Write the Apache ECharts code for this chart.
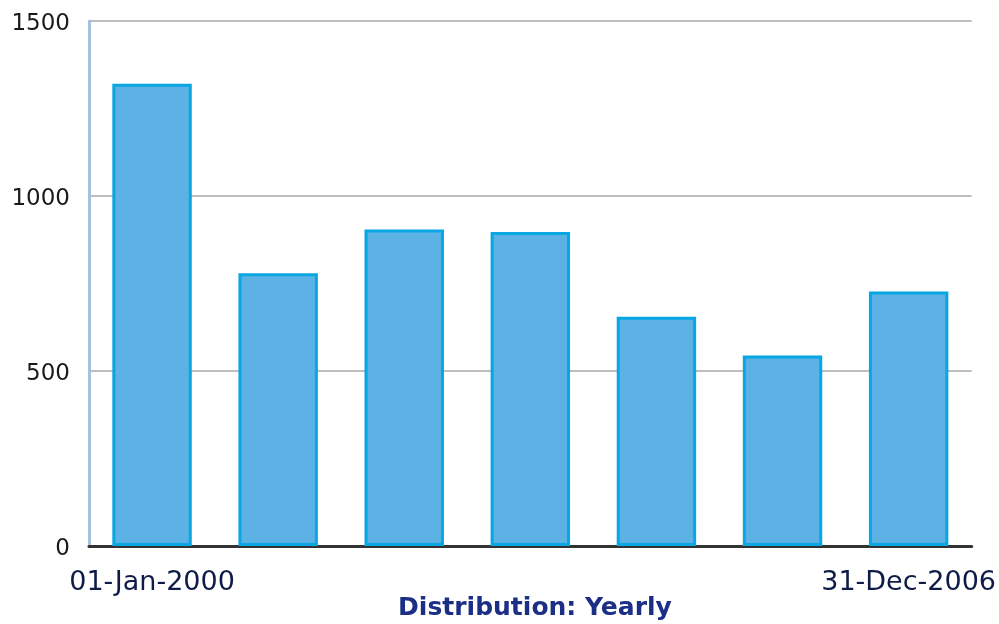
<!DOCTYPE html>
<html>
<head>
<meta charset="utf-8">
<script src="https://cdn.jsdelivr.net/npm/echarts@6/dist/echarts.min.js"></script>
<style>
  html, body { margin: 0; padding: 0; background: #fff; }
  #chart { width: 999px; height: 624px; }
</style>
</head>
<body>
<div id="chart"></div>
<script>
// Yearly distribution, one bar per year
const years = ['2000', '2001', '2002', '2003', '2004', '2005', '2006'];
const counts = [1321, 779, 904, 897, 655, 544, 727];
// Only the first and last periods carry a date label
const tickLabels = ['01-Jan-2000', '', '', '', '', '', '31-Dec-2006'];
const yTicks = { min: 0, max: 1500, step: 500 };
const chartTitle = 'Distribution: Yearly';

const chart = echarts.init(document.getElementById('chart'), null, { renderer: 'canvas' });

chart.setOption({
  animation: false,
  backgroundColor: '#ffffff',
  title: {
    text: chartTitle,
    left: 530,
    top: 591,
    textAlign: 'center',
    textStyle: {
      fontFamily: 'DejaVu Sans',
      fontSize: 25,
      fontWeight: 'bold',
      color: '#1b2f86'
    }
  },
  grid: { left: 89, right: 27, top: 21, bottom: 78 },
  xAxis: {
    type: 'category',
    data: years,
    axisLine: { show: true, lineStyle: { color: '#333333', width: 3 } },
    axisTick: { show: false },
    axisLabel: {
      interval: 0,
      margin: 23,
      fontFamily: 'DejaVu Sans',
      fontSize: 27,
      color: '#101c48',
      formatter: (value, idx) => tickLabels[idx]
    }
  },
  yAxis: {
    type: 'value',
    min: yTicks.min,
    max: yTicks.max,
    interval: yTicks.step,
    axisLine: { show: true, lineStyle: { color: '#a6c2de', width: 3 } },
    axisTick: { show: false },
    axisLabel: {
      margin: 19,
      verticalAlign: 'top',
      lineHeight: 7,
      fontFamily: 'DejaVu Sans',
      fontSize: 23,
      color: '#1a1a1a',
      formatter: (v) => String(v)
    },
    splitLine: { show: true, lineStyle: { color: '#a8a8a8', width: 1.5 } }
  },
  series: [{
    type: 'bar',
    data: counts,
    barWidth: '63%',
    itemStyle: {
      color: '#5db2e5',
      borderColor: '#08a6e2',
      borderWidth: 3
    }
  }]
});
</script>
</body>
</html>
